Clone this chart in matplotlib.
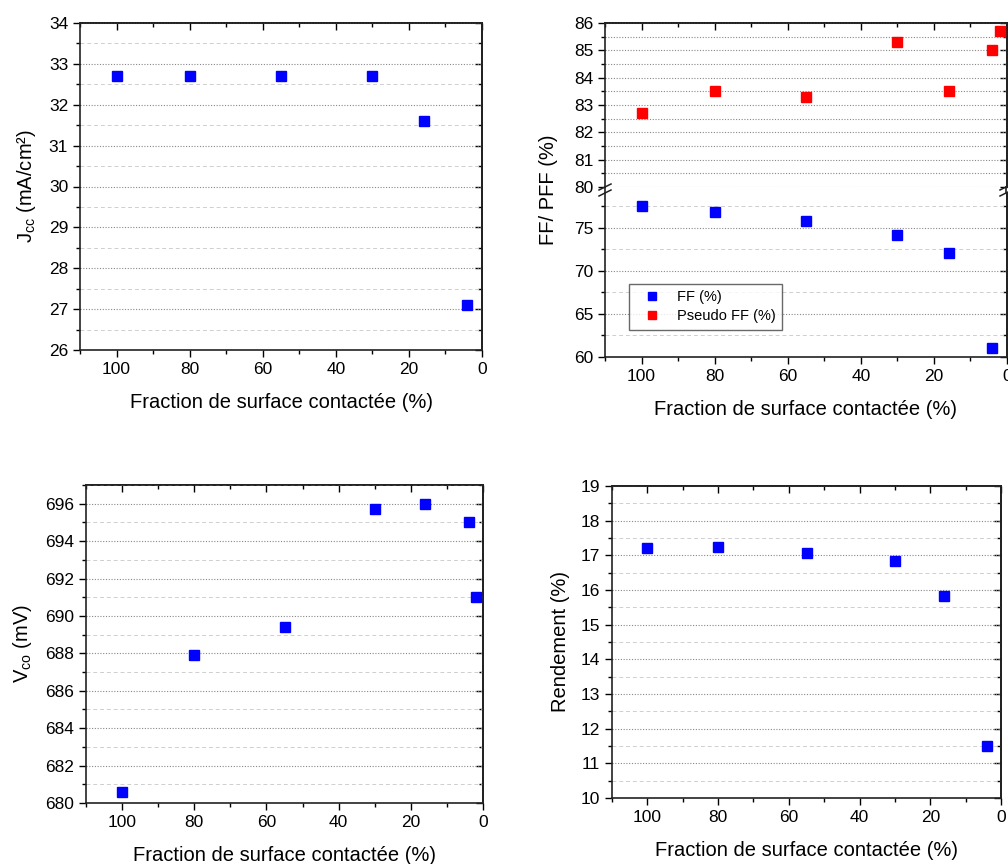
import matplotlib
matplotlib.use("Agg")
import matplotlib.pyplot as plt
import matplotlib.ticker as ticker
from matplotlib.lines import Line2D

plt.rcParams["font.family"] = ["Liberation Sans", "DejaVu Sans"]
plt.rcParams["mathtext.fontset"] = "custom"
plt.rcParams["mathtext.rm"] = "Liberation Sans"

# fraction of contacted surface (%)
frac = [100, 80, 55, 30, 16, 4]
frac7 = [100, 80, 55, 30, 16, 4, 2]

jcc = [32.7, 32.7, 32.7, 32.7, 31.6, 27.1]
ff = [77.45, 76.75, 75.7, 74.1, 72.0, 61.05]
pff = [82.7, 83.5, 83.3, 85.3, 83.5, 85.0, 85.7]
vco = [680.6, 687.9, 689.4, 695.7, 696.0, 695.0, 691.0]
rendement = [17.22, 17.25, 17.06, 16.85, 15.84, 11.49]

xlabel = "Fraction de surface contactée (%)"
TICK_FS = 12.5
LABEL_FS = 14.5
W, H = 1008, 864


def px_axes(fig, x0, y0, x1, y1):
    return fig.add_axes([x0 / W, 1 - y1 / H, (x1 - x0) / W, (y1 - y0) / H])


def style(ax, major, minor, bottom=True, top=True):
    ax.set_xlim(110, 0)
    ax.xaxis.set_major_locator(ticker.MultipleLocator(20))
    ax.xaxis.set_minor_locator(ticker.MultipleLocator(10))
    ax.yaxis.set_major_locator(ticker.MultipleLocator(major))
    ax.yaxis.set_minor_locator(ticker.MultipleLocator(minor))
    ax.tick_params(which="major", direction="out", length=5, width=1,
                   labelsize=TICK_FS, bottom=bottom, labelbottom=bottom)
    ax.tick_params(which="minor", direction="out", length=3, width=1,
                   bottom=bottom)
    ax.grid(which="major", axis="y", color="#888888", linestyle=(0, (1, 1.5)), lw=0.8)
    ax.grid(which="minor", axis="y", color="#cfcfcf", linestyle=(0, (4, 3)), lw=0.7)
    for s in ax.spines.values():
        s.set_linewidth(1.2)
        s.set_color("#222222")
    # inward ticks on the top and right sides
    sy = ax.secondary_yaxis("right")
    sy.yaxis.set_major_locator(ticker.MultipleLocator(major))
    sy.yaxis.set_minor_locator(ticker.MultipleLocator(minor))
    sy.tick_params(which="major", direction="in", length=5, width=1, labelright=False)
    sy.tick_params(which="minor", direction="in", length=3, width=1)
    sy.spines["right"].set_linewidth(1.2)
    if top:
        sx = ax.secondary_xaxis("top")
        sx.xaxis.set_major_locator(ticker.MultipleLocator(20))
        sx.xaxis.set_minor_locator(ticker.MultipleLocator(10))
        sx.tick_params(which="major", direction="in", length=5, width=1, labeltop=False)
        sx.tick_params(which="minor", direction="in", length=3, width=1)
        sx.spines["top"].set_linewidth(1.2)


fig = plt.figure(figsize=(W / 100, H / 100), dpi=100)

# Jcc
ax1 = px_axes(fig, 80, 23, 482, 350)
ax1.plot(frac, jcc, "s", color="#0000ff", ms=6.5, zorder=5)
ax1.set_ylim(26, 34)
style(ax1, 1, 0.5)
ax1.set_xlabel(xlabel, fontsize=LABEL_FS, labelpad=12)
ax1.set_ylabel(r"J$_{\mathregular{cc}}$ (mA/cm²)", fontsize=LABEL_FS, labelpad=8)

# FF / PFF with broken axis
ax2u = px_axes(fig, 605, 23, 1007, 187)
ax2l = px_axes(fig, 605, 193, 1007, 357)
ax2u.plot(frac7, pff, "s", color="#ff0000", ms=6.5, zorder=5)
ax2l.plot(frac, ff, "s", color="#0000ff", ms=6.5, zorder=5)
ax2u.set_ylim(80, 86)
ax2l.set_ylim(60, 79)
style(ax2u, 1, 0.5, bottom=False, top=True)
style(ax2l, 5, 2.5, bottom=True, top=False)
ax2u.spines["bottom"].set_visible(False)
ax2l.spines["top"].set_visible(False)
ax2u.grid(which="minor", axis="y", color="#888888", linestyle=(0, (1, 1.5)), lw=0.8)
ax2l.set_xlabel(xlabel, fontsize=LABEL_FS, labelpad=12)
fig.text(548 / W, 1 - 190 / H, "FF/ PFF (%)", rotation=90, fontsize=LABEL_FS,
         ha="center", va="center")
for xf in (605, 1006):
    fig.add_artist(Line2D([xf / W, xf / W], [1 - 187 / H, 1 - 193 / H],
                          color="#222222", lw=1.2))
    for dy in (-3, 3):
        fig.add_artist(Line2D([(xf - 6) / W, (xf + 6) / W],
                              [1 - (190 + dy + 3) / H, 1 - (190 + dy - 3) / H],
                              color="#222222", lw=1.1))
handles = [
    Line2D([], [], ls="none", marker="s", color="#0000ff", ms=5.5),
    Line2D([], [], ls="none", marker="s", color="#ff0000", ms=5.5),
]
leg = ax2l.legend(handles, ["FF (%)", "Pseudo FF (%)"], loc="lower left",
                  bbox_to_anchor=(0.06, 0.165), borderaxespad=0, fontsize=10.5,
                  frameon=True, fancybox=False, edgecolor="#444444",
                  handlelength=2.2, handletextpad=0.6, borderpad=0.45,
                  labelspacing=0.35)
leg.get_frame().set_linewidth(1.0)

# Vco
ax3 = px_axes(fig, 86, 485, 483, 803)
ax3.plot(frac7, vco, "s", color="#0000ff", ms=6.5, zorder=5)
ax3.set_ylim(680, 697)
style(ax3, 2, 1)
ax3.set_xlabel(xlabel, fontsize=LABEL_FS, labelpad=12)
ax3.set_ylabel(r"V$_{\mathregular{co}}$ (mV)", fontsize=LABEL_FS, labelpad=8)

# Rendement
ax4 = px_axes(fig, 612, 486, 1001, 798)
ax4.plot(frac, rendement, "s", color="#0000ff", ms=6.5, zorder=5)
ax4.set_ylim(10, 19)
style(ax4, 1, 0.5)
ax4.set_xlabel(xlabel, fontsize=LABEL_FS, labelpad=12)
ax4.set_ylabel("Rendement (%)", fontsize=LABEL_FS, labelpad=8)

fig.savefig("out.png", dpi=100)
